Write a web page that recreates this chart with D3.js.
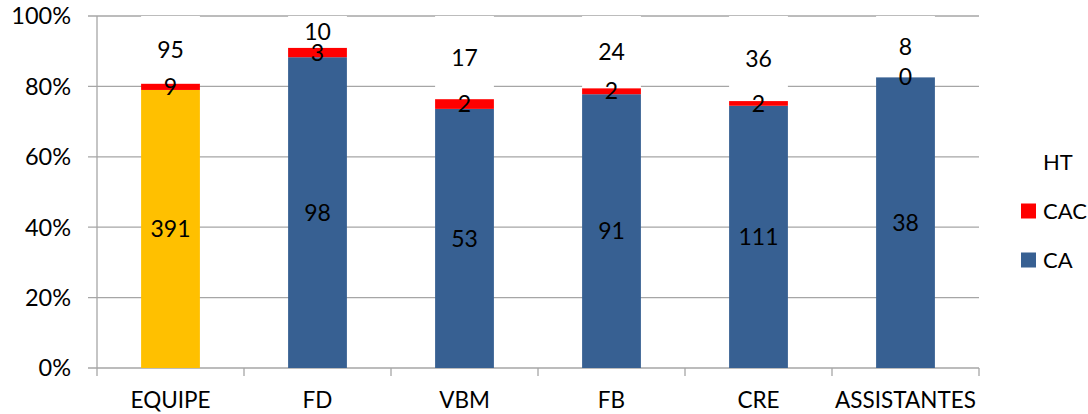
<!DOCTYPE html>
<html>
<head>
<meta charset="utf-8">
<script src="https://cdn.jsdelivr.net/npm/d3@7"></script>
<style>
html,body{margin:0;padding:0;background:#fff;}
text{font-family:Lato,"Open Sans",sans-serif;fill:#000;}
</style>
</head>
<body>
<svg id="chart" width="1088" height="414"></svg>
<script>
const categories = ["EQUIPE","FD","VBM","FB","CRE","ASSISTANTES"];
const seriesNames = ["CA","CAC","HT"];
const CA  = [391, 98, 53, 91, 111, 38];
const CAC = [9, 3, 2, 2, 2, 0];
const HT  = [95, 10, 17, 24, 36, 8];
const yTicks = [0, 0.2, 0.4, 0.6, 0.8, 1.0];
const legendOrder = ["HT","CAC","CA"];

const colors = {CA:"#376092", CAC:"#FF0000", HT:"#FFFFFF"};
const caHighlight = {"EQUIPE":"#FFC000"};

const svg = d3.select("#chart");
const m = {left:97, right:1088-979, top:16, bottom:414-368};
const W = 1088, H = 414;

const rows = categories.map((c,i)=>({cat:c, CA:CA[i], CAC:CAC[i], HT:HT[i]}));
const stack = d3.stack().keys(seriesNames).offset(d3.stackOffsetExpand);
const stacked = stack(rows);

const x = d3.scaleBand().domain(categories).range([m.left, W-m.right]).paddingInner(0.6).paddingOuter(0.3);
const y = d3.scaleLinear().domain([0,1]).range([H-m.bottom, m.top]);

// gridlines
const gridColor = "#a6a6a6";
svg.append("g").selectAll("line").data(yTicks).join("line")
  .attr("x1", m.left-9).attr("x2", W-m.right)
  .attr("y1", d=>y(d)).attr("y2", d=>y(d))
  .attr("stroke", gridColor).attr("stroke-width", 1.3);

// y axis line
svg.append("line").attr("x1", m.left).attr("x2", m.left)
  .attr("y1", y(1)).attr("y2", y(0)+8).attr("stroke", gridColor).attr("stroke-width",1.3);

// category boundary ticks
const bw = (W-m.right-m.left)/categories.length;
svg.append("g").selectAll("line").data(d3.range(1, categories.length+1)).join("line")
  .attr("x1", d=>m.left+d*bw).attr("x2", d=>m.left+d*bw)
  .attr("y1", y(0)).attr("y2", y(0)+8)
  .attr("stroke", gridColor).attr("stroke-width",1.3);

// y tick labels
svg.append("g").selectAll("text").data(yTicks).join("text")
  .attr("x", 71).attr("y", d=>y(d)).attr("dy","0.36em")
  .attr("text-anchor","end").attr("font-size", 23.5)
  .text(d=>d3.format(".0%")(d));

// x labels
svg.append("g").selectAll("text").data(categories).join("text")
  .attr("x", d=>x(d)+x.bandwidth()/2).attr("y", 408)
  .attr("text-anchor","middle").attr("font-size", 22.5)
  .text(d=>d);

// bars
stacked.forEach(s=>{
  const g = svg.append("g");
  g.selectAll("rect").data(s).join("rect")
    .attr("x", d=>x(d.data.cat)).attr("width", x.bandwidth())
    .attr("y", d=>y(d[1])).attr("height", d=>Math.max(0, y(d[0])-y(d[1])))
    .attr("fill", d=> s.key==="CA" && caHighlight[d.data.cat] ? caHighlight[d.data.cat] : colors[s.key]);
});

// labels
stacked.forEach(s=>{
  svg.append("g").selectAll("text").data(s).join("text")
    .attr("x", d=>x(d.data.cat)+x.bandwidth()/2)
    .attr("y", d=>y((d[0]+d[1])/2)).attr("dy","0.36em")
    .attr("text-anchor","middle").attr("font-size", 23)
    .text(d=>d.data[s.key]);
});

// legend
const leg = svg.append("g");
legendOrder.forEach((k,i)=>{
  const cy = 162 + i*49;
  leg.append("rect").attr("x",1021).attr("y",cy-7.5).attr("width",15).attr("height",15)
    .attr("fill", colors[k]);
  leg.append("text").attr("x",1043).attr("y",cy).attr("dy","0.36em")
    .attr("font-size",22).text(k);
});
</script>
</body>
</html>
